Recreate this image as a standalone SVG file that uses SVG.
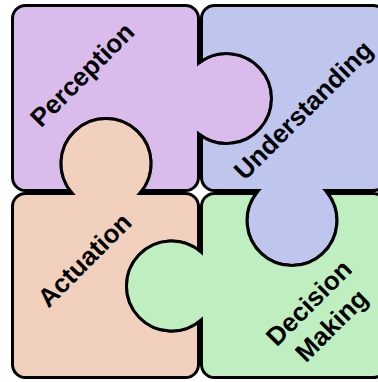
<svg xmlns="http://www.w3.org/2000/svg" width="378" height="382" viewBox="0 0 378 382">
  <style>
    .piece { stroke: #000; stroke-width: 3; }
    .label { font-family: "Liberation Sans", Arial, sans-serif; font-weight: bold; font-size: 26px; fill: #000; text-anchor: middle; }
  </style>
  <rect width="378" height="382" fill="#fff"/>
  <g id="perception">
    <path class="piece" fill="#D9BCEC" d="M25.5 5.5 H185.5 A13 13 0 0 1 198.5 18.5 V63.27 A45 45 0 1 1 198.5 133.73 V177.5 A13 13 0 0 1 185.5 190.5 H142 A45 45 0 1 0 70 190.5 H25.5 A13 13 0 0 1 12.5 177.5 V18.5 A13 13 0 0 1 25.5 5.5 Z"/>
    <text class="label" transform="translate(88.5 81) rotate(-45)">Perception</text>
  </g>
  <g id="understanding">
    <path class="piece" fill="#BEC6EE" d="M214.5 5.5 H373 A13 13 0 0 1 386 18.5 V177.5 A13 13 0 0 1 373 190.5 H325.54 A45 45 0 1 1 258.46 190.5 H214.5 A13 13 0 0 1 201.5 177.5 V135.92 A45 45 0 1 0 201.5 61.08 V18.5 A13 13 0 0 1 214.5 5.5 Z"/>
    <text class="label" transform="translate(309.5 116.5) rotate(-45)">Understanding</text>
  </g>
  <g id="actuation">
    <path class="piece" fill="#F1D0BD" d="M25.5 193.5 H72.46 A45 45 0 1 1 139.54 193.5 H185.5 A13 13 0 0 1 198.5 206.5 V250 A45 45 0 1 0 198.5 322 V364.5 A13 13 0 0 1 185.5 377.5 H25.5 A13 13 0 0 1 12.5 364.5 V206.5 A13 13 0 0 1 25.5 193.5 Z"/>
    <text class="label" transform="translate(90.8 266.3) rotate(-45)">Actuation</text>
  </g>
  <g id="decision-making">
    <path class="piece" fill="#BFEFC0" d="M214.5 193.5 H256 A45 45 0 1 0 328 193.5 H373 A13 13 0 0 1 386 206.5 V364.5 A13 13 0 0 1 373 377.5 H214.5 A13 13 0 0 1 201.5 364.5 V319.54 A45 45 0 1 1 201.5 252.46 V206.5 A13 13 0 0 1 214.5 193.5 Z"/>
    <text class="label" transform="translate(326.4 320.4) rotate(-45)"><tspan x="0" y="-16">Decision</tspan><tspan x="0" y="16">Making</tspan></text>
  </g>
</svg>
